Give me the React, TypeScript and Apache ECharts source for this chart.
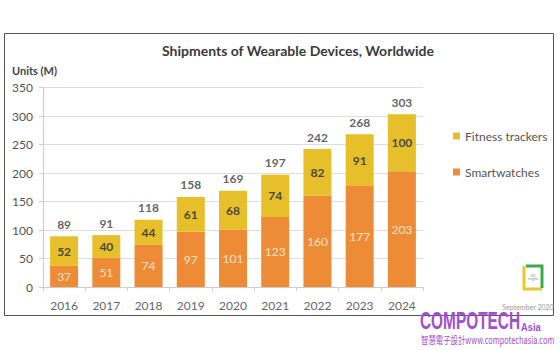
import React, { useEffect, useRef } from "react";
import * as echarts from "echarts";

const years = ["2016", "2017", "2018", "2019", "2020", "2021", "2022", "2023", "2024"];
const smartwatches = [37, 51, 74, 97, 101, 123, 160, 177, 203];
const fitnessTrackers = [52, 40, 44, 61, 68, 74, 82, 91, 100];
const totals = [89, 91, 118, 158, 169, 197, 242, 268, 303];

const FONT = "Lato, 'Open Sans', sans-serif";
const ORANGE = "#ED8B37";
const YELLOW = "#E6BF2A";

export default function App() {
  const ref = useRef<HTMLDivElement>(null);
  useEffect(() => {
    const chart = echarts.init(ref.current!, undefined, { renderer: "svg" });
    chart.setOption({
      animation: false,
      backgroundColor: "#fff",
      textStyle: { fontFamily: FONT },
      title: {
        text: "Shipments of Wearable Devices, Worldwide",
        left: 293,
        textAlign: "center",
        top: 38,
        textStyle: { fontSize: 14, fontWeight: "bold", color: "#3a3a3a", fontFamily: FONT },
      },
      legend: {
        data: ["Fitness trackers", "Smartwatches"],
        orient: "vertical",
        left: 448,
        top: 125,
        itemWidth: 7,
        itemHeight: 7,
        itemGap: 24,
        icon: "rect",
        textStyle: { fontSize: 12, color: "#555", fontFamily: FONT },
      },
      grid: { left: 43, right: 137, top: 87.5, bottom: 63 },
      xAxis: {
        type: "category",
        data: years,
        axisLine: { lineStyle: { color: "#ccc" } },
        axisTick: { show: true, lineStyle: { color: "#ccc" }, length: 4 },
        axisLabel: { color: "#666", fontSize: 12, margin: 12, fontFamily: FONT },
      },
      yAxis: {
        type: "value",
        min: 0,
        max: 350,
        interval: 50,
        name: "Units (M)",
        nameLocation: "end",
        nameGap: 12,
        nameTextStyle: { fontSize: 11, fontWeight: "bold", color: "#444", align: "left", padding: [0, 0, 0, -31], fontFamily: FONT },
        axisLine: { show: true, lineStyle: { color: "#ccc" } },
        axisTick: { show: true, length: 4, lineStyle: { color: "#ccc" } },
        axisLabel: { color: "#555", fontSize: 12, margin: 10, fontFamily: FONT },
        splitLine: { lineStyle: { color: "#ddd" } },
      },
      series: [
        {
          name: "Smartwatches",
          type: "bar",
          stack: "total",
          data: smartwatches,
          barWidth: 28,
          itemStyle: { color: ORANGE },
          label: { show: true, position: "inside", color: "#FBE3C6", fontSize: 12, fontFamily: FONT },
        },
        {
          name: "Fitness trackers",
          type: "bar",
          stack: "total",
          data: fitnessTrackers,
          barWidth: 28,
          itemStyle: { color: YELLOW },
          label: { show: true, position: "inside", color: "#4a4a3a", fontSize: 12, fontWeight: "bold", fontFamily: FONT },
        },
        {
          name: "Total",
          type: "scatter",
          data: totals,
          symbolSize: 0,
          silent: true,
          label: { show: true, position: "top", distance: 6, color: "#3a3a3a", fontSize: 12, fontWeight: "bold", fontFamily: FONT },
        },
      ],
      graphic: [
        {
          type: "rect",
          shape: { x: 4.5, y: 33.5, width: 549, height: 282 },
          style: { fill: "none", stroke: "#555", lineWidth: 1 },
          silent: true,
        },
        {
          type: "polyline",
          shape: { points: [[524, 266], [524, 289], [542, 289]] },
          style: { stroke: "#E8C832", lineWidth: 3, fill: "none" },
        },
        {
          type: "polyline",
          shape: { points: [[526, 266], [542, 266], [542, 288]] },
          style: { stroke: "#3DAA4A", lineWidth: 3, fill: "none" },
        },
        {
          type: "text",
          x: 533,
          y: 277,
          style: { text: "IDC\nInsights", fontSize: 3, fill: "#888", align: "center", verticalAlign: "middle", fontFamily: FONT },
        },
        {
          type: "text",
          x: 528,
          y: 307,
          style: { text: "September 2020", fontSize: 7, fill: "#999", align: "center", verticalAlign: "middle", fontFamily: FONT },
        },
        {
          type: "text",
          x: 420,
          y: 321,
          scaleX: 0.67,
          style: { text: "COMPOTECH", fontSize: 23, fontWeight: "bold", fill: "#A24ED0", verticalAlign: "middle", fontFamily: "'Liberation Sans', sans-serif" },
        },
        {
          type: "text",
          x: 521,
          y: 327,
          scaleX: 0.85,
          style: { text: "Asia", fontSize: 11, fontWeight: "bold", fill: "#A24ED0", verticalAlign: "middle", fontFamily: "'Liberation Sans', sans-serif" },
        },
        {
          type: "text",
          x: 421,
          y: 340,
          scaleX: 0.74,
          style: { text: "智慧電子設計www.compotechasia.com", fontSize: 10, fill: "#A24ED0", verticalAlign: "middle", fontFamily: "'Noto Sans CJK TC', sans-serif" },
        },
      ],
    });
    return () => chart.dispose();
  }, []);
  return <div ref={ref} style={{ position: "fixed", left: 0, top: 0, width: 560, height: 350 }} />;
}
